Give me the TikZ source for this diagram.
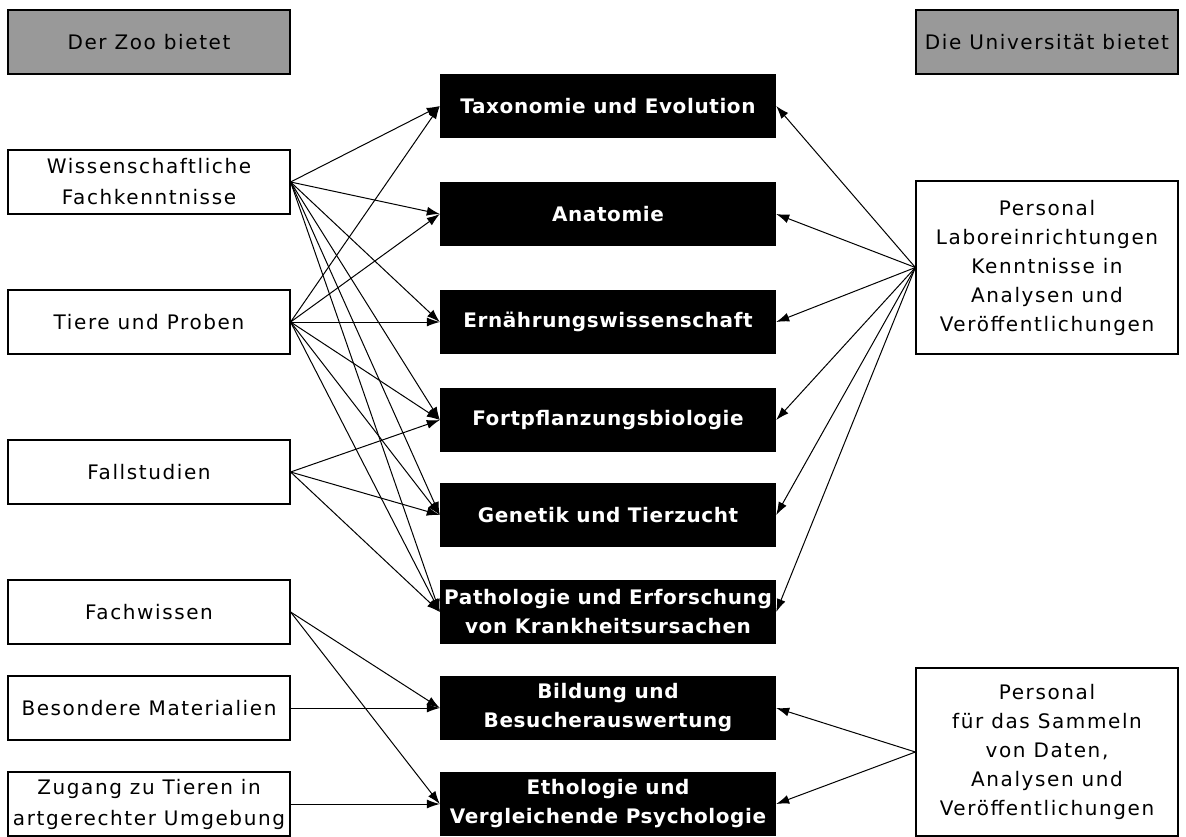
\documentclass[tikz,border=0pt]{standalone}
\usepackage{fontspec}
\setmainfont{DejaVu Sans}
\newfontfamily\plainfont[LetterSpace=8]{DejaVu Sans}
\newfontfamily\heavyfont[LetterSpace=3]{DejaVu Sans}
\usetikzlibrary{positioning, arrows.meta}
\definecolor{headgray}{RGB}{153,153,153}

\begin{document}
\begin{tikzpicture}[x=1pt, y=-1pt,
  head/.style={draw, line width=1.2pt, fill=headgray, minimum height=64pt, inner sep=0pt, font=\plainfont\fontsize{20}{29}\selectfont},
  zoo/.style={draw, line width=1.2pt, fill=white, minimum width=282pt, minimum height=64pt, inner sep=0pt, align=center, font=\plainfont\fontsize{20}{31}\selectfont},
  uni/.style={draw, line width=1.2pt, fill=white, minimum width=262pt, inner sep=0pt, align=center, font=\plainfont\fontsize{20}{29}\selectfont},
  topic/.style={fill=black, text=white, minimum width=336pt, minimum height=64pt, inner sep=0pt, align=center, font=\heavyfont\bfseries\fontsize{20}{29}\selectfont},
  link/.style={-{Latex[length=13pt, width=9pt]}, line width=1pt}]
  \useasboundingbox (0,0) rectangle (1186,836);

  % Kopfzeilen
  \node[head, minimum width=282pt] (zoohead) at (149,42) {Der Zoo bietet};
  \node[head, minimum width=262pt] (unihead) at (1047,42) {Die Universität bietet};

  % Angebote des Zoos
  \node[zoo] (z1) at (149,182) {Wissenschaftliche\\Fachkenntnisse};
  \node[zoo] (z2) at (149,322) {Tiere und Proben};
  \node[zoo] (z3) at (149,472) {Fallstudien};
  \node[zoo] (z4) at (149,612) {Fachwissen};
  \node[zoo] (z5) at (149,708) {Besondere Materialien};
  \node[zoo] (z6) at (149,804) {Zugang zu Tieren in\\artgerechter Umgebung};

  % Forschungsgebiete
  \node[topic] (t1) at (608,106) {Taxonomie und Evolution};
  \node[topic] (t2) at (608,214) {Anatomie};
  \node[topic] (t3) at (608,322) {Ernährungswissenschaft};
  \node[topic] (t4) at (608,420) {Fortpflanzungsbiologie};
  \node[topic] (t5) at (608,515) {Genetik und Tierzucht};
  \node[topic] (t6) at (608,612) {Pathologie und Erforschung\\von Krankheitsursachen};
  \node[topic] (t7) at (608,708) {Bildung und\\Besucherauswertung};
  \node[topic] (t8) at (608,804) {Ethologie und\\Vergleichende Psychologie};

  % Angebote der Universität
  \node[uni, minimum height=173pt] (u1) at (1047,267.5) {Personal\\Laboreinrichtungen\\Kenntnisse in\\Analysen und\\Veröffentlichungen};
  \node[uni, minimum height=168pt] (u2) at (1047,752) {Personal\\für das Sammeln\\von Daten,\\Analysen und\\Veröffentlichungen};

  \draw[link] (z1.east) -- (t1.west);
  \draw[link] (z1.east) -- (t2.west);
  \draw[link] (z1.east) -- (t3.west);
  \draw[link] (z1.east) -- (t4.west);
  \draw[link] (z1.east) -- (t5.west);
  \draw[link] (z1.east) -- (t6.west);
  \draw[link] (z2.east) -- (t1.west);
  \draw[link] (z2.east) -- (t2.west);
  \draw[link] (z2.east) -- (t3.west);
  \draw[link] (z2.east) -- (t4.west);
  \draw[link] (z2.east) -- (t5.west);
  \draw[link] (z2.east) -- (t6.west);
  \draw[link] (z3.east) -- (t4.west);
  \draw[link] (z3.east) -- (t5.west);
  \draw[link] (z3.east) -- (t6.west);
  \draw[link] (z4.east) -- (t7.west);
  \draw[link] (z4.east) -- (t8.west);
  \draw[link] (z5.east) -- (t7.west);
  \draw[link] (z6.east) -- (t8.west);

  \draw[link] (u1.west) -- (t1.east);
  \draw[link] (u1.west) -- (t2.east);
  \draw[link] (u1.west) -- (t3.east);
  \draw[link] (u1.west) -- (t4.east);
  \draw[link] (u1.west) -- (t5.east);
  \draw[link] (u1.west) -- (t6.east);
  \draw[link] (u2.west) -- (t7.east);
  \draw[link] (u2.west) -- (t8.east);
\end{tikzpicture}
\end{document}
